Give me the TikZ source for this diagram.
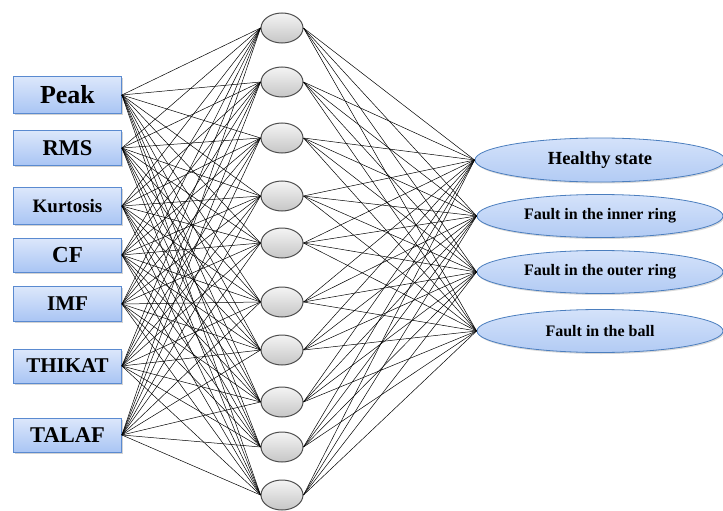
\documentclass[tikz,border=0pt]{standalone}
\usepackage{fontspec}
\setmainfont{Liberation Serif}
\newfontfamily\labelfont{Liberation Serif}
\usepackage{tikz}
\usepackage{xcolor}
\usetikzlibrary{shadows,shapes.geometric}
\definecolor{boxtop}{HTML}{DCE7FB}
\definecolor{boxbot}{HTML}{A9C5F4}
\definecolor{boxline}{HTML}{5A8AD0}
\definecolor{outtop}{HTML}{D4E2FA}
\definecolor{outbot}{HTML}{B2CBF4}
\definecolor{outline}{HTML}{4B7EBE}
\definecolor{hidtop}{HTML}{F4F4F4}
\definecolor{hidbot}{HTML}{C6C6C6}
\definecolor{hidline}{HTML}{4D4D4D}
\newcommand{\fsz}[1]{\labelfont\bfseries\fontsize{#1}{#1}\selectfont}
\tikzstyle{inbox} = [
    rectangle,
    draw=boxline,
    top color=boxtop,
    bottom color=boxbot,
    line width=0.8pt,
    minimum width=108pt,
    minimum height=35pt,
    inner sep=0pt,
    drop shadow={opacity=0.35, shadow xshift=1pt, shadow yshift=-1.5pt}
    ]
\tikzstyle{neuron} = [
    ellipse,
    draw=hidline,
    top color=hidtop,
    bottom color=hidbot,
    line width=1pt,
    minimum width=42pt,
    minimum height=30pt,
    inner sep=0pt
    ]
\tikzstyle{outell} = [
    ellipse,
    draw=outline,
    top color=outtop,
    bottom color=outbot,
    line width=0.8pt,
    minimum width=250pt,
    minimum height=43pt,
    inner sep=0pt,
    drop shadow={opacity=0.3, shadow xshift=1pt, shadow yshift=-1.5pt}
    ]
\tikzstyle{wire} = [black, line width=0.5pt]

\begin{document}
\begin{tikzpicture}[x=1pt, y=-1pt]
\useasboundingbox (0,0) rectangle (723,511);

% input features
\node[inbox, minimum height=37pt, font=\fsz{26}] (peak) at (67.5,95) {Peak};
\node[inbox, font=\fsz{22.5}] (rms) at (67.5,148) {RMS};
\node[inbox, minimum height=37pt, font=\fsz{19}] (kurt) at (67.5,206) {Kurtosis};
\node[inbox, minimum height=34pt, font=\fsz{23}] (cf) at (67.5,255) {CF};
\node[inbox, font=\fsz{21}] (imf) at (67.5,304) {IMF};
\node[inbox, minimum height=34pt, font=\fsz{21}] (thikat) at (67.5,366) {THIKAT};
\node[inbox, minimum height=34pt, font=\fsz{22.5}] (talaf) at (67.5,435) {TALAF};

% hidden layer
\node[neuron] (h1) at (282,28) {};
\node[neuron] (h2) at (282,82) {};
\node[neuron] (h3) at (282,138) {};
\node[neuron] (h4) at (282,196) {};
\node[neuron] (h5) at (282,243) {};
\node[neuron] (h6) at (282,302) {};
\node[neuron] (h7) at (282,350) {};
\node[neuron] (h8) at (282,402) {};
\node[neuron] (h9) at (282,447) {};
\node[neuron] (h10) at (282,495) {};

% classes
\node[outell, minimum height=44pt, font=\fsz{18.5}] (healthy) at (600,160) {Healthy state};
\node[outell, minimum width=246pt, font=\fsz{16}] (inner) at (600,216) {Fault in the inner ring};
\node[outell, minimum width=246pt, font=\fsz{16}] (outer) at (600,272) {Fault in the outer ring};
\node[outell, minimum width=246pt, font=\fsz{16}] (ball) at (600,331) {Fault in the ball};

% full connections
\foreach \a in {peak,rms,kurt,cf,imf,thikat,talaf}{
    \foreach \b in {1,...,10}{
        \draw[wire] (\a.east) -- (h\b.west);
    }
}
\foreach \b in {1,...,10}{
    \foreach \c in {healthy,inner,outer,ball}{
        \draw[wire] (h\b.east) -- (\c.west);
    }
}
\end{tikzpicture}
\end{document}
